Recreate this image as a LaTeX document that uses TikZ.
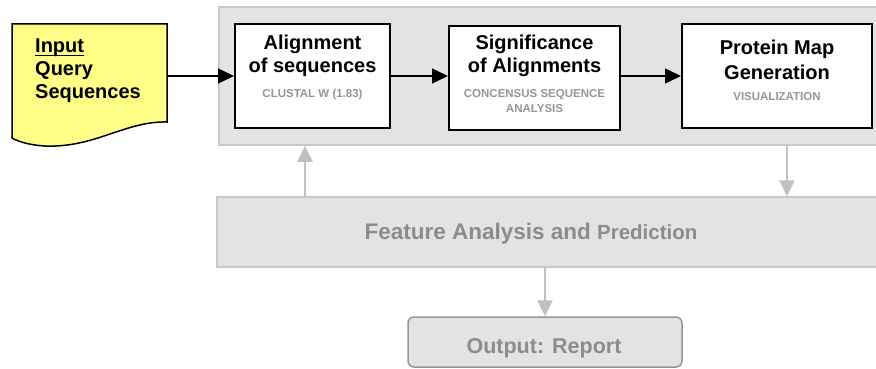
\documentclass[tikz,border=0pt]{standalone}
\usepackage{fontspec}
\setmainfont{Liberation Sans}
\usetikzlibrary{arrows.meta}
\definecolor{docyellow}{RGB}{255,255,136}
\definecolor{panelgray}{RGB}{227,227,227}
\definecolor{panelline}{RGB}{200,200,200}
\definecolor{captiongray}{RGB}{150,150,150}
\definecolor{featgray}{RGB}{140,140,140}
\definecolor{arrowgray}{RGB}{192,192,192}
\definecolor{outline}{RGB}{150,150,150}
\begin{document}
\begin{tikzpicture}[x=1pt,y=-1pt,
  panel/.style={draw=panelline,fill=panelgray,line width=1.5pt,inner sep=0pt},
  mainbox/.style={draw=black,fill=white,line width=2pt,inner sep=0pt},
  title/.style={font=\fontsize{20}{24}\selectfont\bfseries,inner sep=0pt,anchor=base},
  caption/.style={font=\fontsize{11.5}{13}\selectfont\bfseries,text=captiongray,inner sep=0pt,anchor=base},
  doctext/.style={font=\fontsize{20}{23}\selectfont\bfseries,inner sep=0pt,anchor=base west},
  blackarrow/.style={draw=black,line width=1.5pt,-{Triangle[length=16pt,width=15pt]}},
  grayarrow/.style={draw=arrowgray,line width=2pt,-{Triangle[length=16pt,width=15pt]}}
]
\useasboundingbox (0,0) rectangle (876,369);

% outer panel and feature panel
\node[panel,minimum width=661pt,minimum height=138pt] (outer) at (549.5,76) {};
\node[panel,minimum width=663pt,minimum height=70pt] (feat) at (548.5,232) {};
\node[panel,draw=outline,rounded corners=6pt,minimum width=274pt,minimum height=50pt] (out) at (545,342) {};

% document shape
\draw[black,line width=1.5pt,fill=docyellow]
  (12,24) -- (167,24) -- (167,122)
  .. controls (125,121) and (95,148) .. (45,146)
  .. controls (28,145) and (17,141) .. (12,138) -- cycle;
\coordinate (docR) at (167,76);
\node[doctext] (in1) at (35,53) {Input};
\draw[line width=1.4pt] ([yshift=-2.5pt]in1.base west) -- ([yshift=-2.5pt]in1.base east);
\node[doctext] (in2) at (35,76) {Query};
\node[doctext] (in3) at (35,99) {Sequences};

% process boxes
\node[mainbox,minimum width=155pt,minimum height=104pt] (align) at (312.5,76) {};
\node[mainbox,minimum width=171pt,minimum height=104pt] (signif) at (534.5,78) {};
\node[mainbox,minimum width=190pt,minimum height=104pt] (prot) at (777,76) {};

\node[title] (a1) at (312.5,50) {Alignment};
\node[title] (a2) at (312.5,73) {of sequences};
\node[caption] (a3) at (312.5,97) {CLUSTAL W (1.83)};

\node[title] (s1) at (534.5,50) {Significance};
\node[title] (s2) at (534.5,73) {of Alignments};
\node[caption] (s3) at (534.5,98) {CONCENSUS SEQUENCE};
\node[caption] (s4) at (534.5,113) {ANALYSIS};

\node[title] (p1) at (777,55) {Protein Map};
\node[title] (p2) at (777,80) {Generation};
\node[caption] (p3) at (777,100) {VISUALIZATION};

% feature & output text
\node[inner sep=0pt,anchor=base,text=featgray,font=\bfseries] (ft) at (531,239)
  {\fontsize{22.5}{26}\selectfont Feature Analysis and {\fontsize{20.5}{24}\selectfont Prediction}};
\node[inner sep=0pt,anchor=base,text=featgray,font=\fontsize{21.5}{25}\selectfont\bfseries] (ot) at (544,353) {Output: Report};

% black arrows
\draw[blackarrow] (docR) -- (align.west |- docR);
\draw[blackarrow] (align.east) -- (align.east -| signif.west);
\draw[blackarrow] (align.east -| signif.east) -- (align.east -| prot.west);

% gray arrows
\coordinate (upx) at (305,0);
\coordinate (downx) at (787,0);
\draw[grayarrow] (feat.north -| upx) -- (outer.south -| upx);
\draw[grayarrow] (outer.south -| downx) -- (feat.north -| downx);
\draw[grayarrow] (feat.south -| out.north) -- (out.north);
\end{tikzpicture}
\end{document}
